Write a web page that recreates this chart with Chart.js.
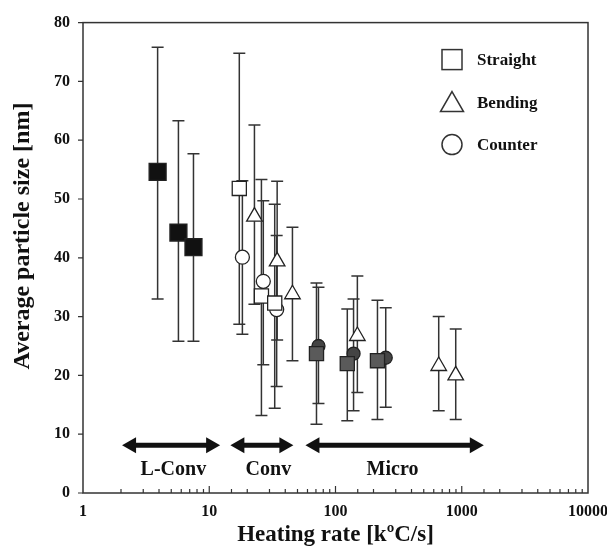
<!DOCTYPE html>
<html>
<head>
<meta charset="utf-8">
<script src="https://cdn.jsdelivr.net/npm/chart.js@4/dist/chart.umd.min.js"></script>
<style>
  body { margin: 0; background: #fff; }
  canvas { display: block; }
</style>
</head>
<body>
<canvas id="sizeChart" width="607" height="547"></canvas>
<script>
// === DATA ===
const xTickLabels = [1, 10, 100, 1000, 10000];

// L-Conv (filled black squares)
const lconvX = [3.9, 5.7, 7.5];
const lconvY = [54.6, 44.3, 41.8];
const lconvHi = [75.8, 63.3, 57.7];
const lconvLo = [33.0, 25.8, 25.8];

// Conv, straight / bending / counter (open markers)
const convStraightX = [17.3, 25.9, 33.0];
const convStraightY = [51.8, 33.5, 32.3];
const convStraightHi = [74.8, 53.3, 49.1];
const convStraightLo = [28.7, 13.2, 14.4];

const convBendingX = [22.8, 34.5, 45.6];
const convBendingY = [47.0, 39.4, 33.8];
const convBendingHi = [62.6, 53.0, 45.2];
const convBendingLo = [32.1, 26.0, 22.5];

const convCounterX = [18.3, 26.8, 34.2];
const convCounterY = [40.1, 36.0, 31.2];
const convCounterHi = [53.1, 49.7, 43.8];
const convCounterLo = [27.0, 21.8, 18.1];

// Micro
const microStraightX = [70.7, 124, 215];
const microStraightY = [23.7, 22.0, 22.5];
const microStraightHi = [35.7, 31.3, 32.8];
const microStraightLo = [11.7, 12.3, 12.5];

const microCounterX = [73.3, 139, 250];
const microCounterY = [25.0, 23.7, 23.0];
const microCounterHi = [35.0, 33.0, 31.5];
const microCounterLo = [15.2, 14.0, 14.6];

const microBendingX = [149, 657, 896];
const microBendingY = [26.7, 21.6, 20.0];
const microBendingHi = [36.9, 30.0, 27.9];
const microBendingLo = [17.1, 14.0, 12.5];

// heating regimes (arrows)
const regionNames = ['L-Conv', 'Conv', 'Micro'];
const regionStart = [2.04, 14.7, 57.8];
const regionEnd = [12.2, 46.4, 1496];
const regionLabelX = [5.2, 29.4, 283];
const arrowLevel = 8.1;
const labelLevel = 3.9;

const legendNames = ['Straight', 'Bending', 'Counter'];

const FONT = '"Liberation Serif", "Times New Roman", serif';

function pts(xs, ys) {
  return xs.map((x, i) => ({ x: x, y: ys[i] }));
}

function series(label, xs, ys, hi, lo, style, radius, fill) {
  return {
    label: label,
    data: pts(xs, ys),
    errHi: hi,
    errLo: lo,
    pointStyle: style,
    pointRadius: radius,
    pointHoverRadius: radius,
    backgroundColor: fill,
    borderColor: '#222',
    borderWidth: 1.3,
    showLine: false
  };
}

// error bars under the markers
const errorBars = {
  id: 'errorBars',
  beforeDatasetsDraw(chart) {
    const ctx = chart.ctx;
    const y = chart.scales.y;
    ctx.save();
    ctx.strokeStyle = '#333';
    ctx.lineWidth = 1.5;
    chart.data.datasets.forEach((ds, di) => {
      const meta = chart.getDatasetMeta(di);
      meta.data.forEach((pt, i) => {
        const px = pt.x;
        const top = y.getPixelForValue(ds.errHi[i]);
        const bot = y.getPixelForValue(ds.errLo[i]);
        ctx.beginPath();
        ctx.moveTo(px, top); ctx.lineTo(px, bot);
        ctx.moveTo(px - 6, top); ctx.lineTo(px + 6, top);
        ctx.moveTo(px - 6, bot); ctx.lineTo(px + 6, bot);
        ctx.stroke();
      });
    });
    ctx.restore();
  }
};

function arrowHead(ctx, tipX, y, dir) {
  ctx.beginPath();
  ctx.moveTo(tipX, y);
  ctx.lineTo(tipX - dir * 14, y - 8);
  ctx.lineTo(tipX - dir * 14, y + 8);
  ctx.closePath();
  ctx.fill();
}

// frame, ticks, arrows, legend, y title
const decorations = {
  id: 'decorations',
  afterDraw(chart) {
    const ctx = chart.ctx;
    const a = chart.chartArea;
    const xs = chart.scales.x;
    const ys = chart.scales.y;
    ctx.save();

    // frame
    ctx.strokeStyle = '#333';
    ctx.lineWidth = 1.5;
    ctx.strokeRect(a.left, a.top, a.right - a.left, a.bottom - a.top);

    // x ticks pointing inward
    ctx.lineWidth = 1.2;
    ctx.beginPath();
    xs.ticks.forEach(t => {
      const px = xs.getPixelForValue(t.value);
      if (px <= a.left + 1 || px >= a.right - 1) return;
      const major = xTickLabels.includes(Math.round(t.value));
      ctx.moveTo(px, a.bottom);
      ctx.lineTo(px, a.bottom - (major ? 7 : 4));
    });
    // y ticks pointing outward
    ys.ticks.forEach(t => {
      const py = ys.getPixelForValue(t.value);
      ctx.moveTo(a.left, py);
      ctx.lineTo(a.left - 5, py);
    });
    ctx.stroke();

    // regime arrows
    ctx.fillStyle = '#111';
    ctx.strokeStyle = '#111';
    const ay = ys.getPixelForValue(arrowLevel);
    regionNames.forEach((name, i) => {
      const x0 = xs.getPixelForValue(regionStart[i]);
      const x1 = xs.getPixelForValue(regionEnd[i]);
      ctx.lineWidth = 5;
      ctx.beginPath();
      ctx.moveTo(x0 + 10, ay); ctx.lineTo(x1 - 10, ay);
      ctx.stroke();
      arrowHead(ctx, x0, ay, -1);
      arrowHead(ctx, x1, ay, 1);
      ctx.font = 'bold 20px ' + FONT;
      ctx.textAlign = 'center';
      ctx.textBaseline = 'middle';
      ctx.fillText(name, xs.getPixelForValue(regionLabelX[i]), ys.getPixelForValue(labelLevel));
    });

    // legend
    const lx = a.right - 136;
    const rows = [a.top + 37, a.top + 80, a.top + 122];
    ctx.strokeStyle = '#333';
    ctx.lineWidth = 1.5;
    ctx.fillStyle = '#fff';
    // square
    ctx.strokeRect(lx - 10, rows[0] - 10, 20, 20);
    // triangle
    ctx.beginPath();
    ctx.moveTo(lx, rows[1] - 11);
    ctx.lineTo(lx + 11.5, rows[1] + 9);
    ctx.lineTo(lx - 11.5, rows[1] + 9);
    ctx.closePath();
    ctx.stroke();
    // circle
    ctx.beginPath();
    ctx.arc(lx, rows[2], 10, 0, Math.PI * 2);
    ctx.stroke();
    ctx.fillStyle = '#111';
    ctx.font = 'bold 17px ' + FONT;
    ctx.textAlign = 'left';
    ctx.textBaseline = 'middle';
    legendNames.forEach((n, i) => ctx.fillText(n, lx + 25, rows[i] + 1));

    // y axis title
    ctx.translate(23, 236);
    ctx.rotate(-Math.PI / 2);
    ctx.font = 'bold 24px ' + FONT;
    ctx.textAlign = 'center';
    ctx.fillText('Average particle size [nm]', 0, 0);
    ctx.restore();
  }
};

// === CHART ===
document.addEventListener('DOMContentLoaded', () => {
  const el = document.getElementById('sizeChart');
  new Chart(el.getContext('2d'), {
    type: 'scatter',
    data: {
      datasets: [
        series('L-Conv Straight', lconvX, lconvY, lconvHi, lconvLo, 'rect', 12, '#111'),
        series('Conv Straight', convStraightX, convStraightY, convStraightHi, convStraightLo, 'rect', 10, '#fff'),
        series('Conv Bending', convBendingX, convBendingY, convBendingHi, convBendingLo, 'triangle', 9, '#fff'),
        series('Conv Counter', convCounterX, convCounterY, convCounterHi, convCounterLo, 'circle', 7, '#fff'),
        series('Micro Straight', microStraightX, microStraightY, microStraightHi, microStraightLo, 'rect', 10, '#5a5a5a'),
        series('Micro Counter', microCounterX, microCounterY, microCounterHi, microCounterLo, 'circle', 6.5, '#444'),
        series('Micro Bending', microBendingX, microBendingY, microBendingHi, microBendingLo, 'triangle', 9, '#fff')
      ]
    },
    options: {
      responsive: false,
      animation: false,
      layout: { padding: { top: 18, right: 0, left: 0, bottom: 0 } },
      plugins: { legend: { display: false }, tooltip: { enabled: false } },
      scales: {
        x: {
          type: 'logarithmic',
          min: 1,
          max: 10000,
          afterFit: (s) => { s.height = 54; s.paddingRight = 19; s.paddingLeft = 0; },
          grid: { display: false, drawTicks: false },
          border: { display: false },
          ticks: {
            autoSkip: false,
            maxRotation: 0,
            padding: 9,
            color: '#111',
            font: { family: FONT, size: 16, weight: 'bold' },
            callback: (v) => {
              const r = Math.round(v);
              return (xTickLabels.includes(r) && Math.abs(v - r) < 1e-6) ? String(r) : '';
            }
          },
          title: {
            display: true,
            text: 'Heating rate [kºC/s]',
            color: '#111',
            padding: 0,
            font: { family: FONT, size: 23, weight: 'bold', lineHeight: 1 }
          }
        },
        y: {
          min: 0,
          max: 80,
          afterFit: (s) => { s.width = 83; },
          grid: { display: false, drawTicks: false },
          border: { display: false },
          ticks: {
            stepSize: 10,
            padding: 13,
            color: '#111',
            font: { family: FONT, size: 16, weight: 'bold' }
          }
        }
      }
    },
    plugins: [errorBars, decorations]
  });
});
</script>
</body>
</html>
